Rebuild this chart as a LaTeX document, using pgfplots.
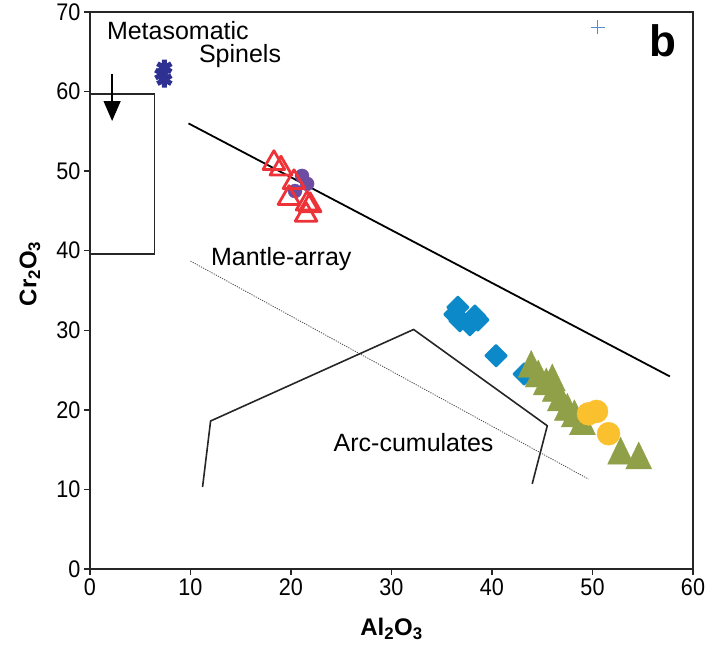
\documentclass[border=0pt]{standalone}
\usepackage{fontspec}
\setmainfont{Liberation Sans}
\newfontfamily\tickfont[FakeStretch=0.9]{Liberation Sans}
\usepackage{pgfplots}
\pgfplotsset{compat=1.18}
\usetikzlibrary{arrows.meta}
\definecolor{cnavy}{HTML}{2E3192}
\definecolor{cplus}{HTML}{4F8FD0}
\definecolor{cred}{HTML}{EE3338}
\definecolor{cpurple}{HTML}{6C4DA1}
\definecolor{cblue}{HTML}{0B89C8}
\definecolor{colive}{HTML}{8FA048}
\definecolor{cyellow}{HTML}{FBC02D}
\begin{document}
\begin{tikzpicture}
\begin{axis}[
  scale only axis, width=603pt, height=557pt,
  xmin=0, xmax=60, ymin=0, ymax=70,
  xtick={0,10,...,60}, ytick={0,10,...,70},
  tick align=outside, xtick pos=bottom, ytick pos=left,
  major tick length=6pt,
  axis line style={line width=1.8pt, black!85},
  tick style={line width=1.5pt, black!85},
  ticklabel style={font=\tickfont\fontsize{24}{28}\selectfont},
  /pgf/number format/assume math mode=true,
  xlabel={Al\textsubscript{2}O\textsubscript{3}},
  ylabel={Cr\textsubscript{2}O\textsubscript{3}},
  every axis x label/.style={at={(axis description cs:0.5,-0.108)}, anchor=center, font=\fontsize{24}{28}\selectfont\bfseries},
  every axis y label/.style={at={(axis description cs:-0.0995,0.53)}, anchor=center, rotate=90, font=\fontsize{24}{28}\selectfont\bfseries},
  clip=false,
]
\coordinate (sw) at (rel axis cs:0,0);
\coordinate (ne) at (rel axis cs:1,1);

% reference fields
\addplot[gray!60!black, line width=0.8pt, dash pattern=on 1.2pt off 1.2pt] coordinates {(10.0,38.7) (49.6,11.3)};
\addplot[black!85, line width=1.6pt, line join=miter] coordinates {(11.2,10.3) (12.0,18.6) (32.2,30.1) (45.5,18.0) (44.0,10.7)};
\addplot[black!85, line width=1.6pt] coordinates {(0,59.7) (6.4,59.7) (6.4,39.6) (0,39.6)};
\addplot[black, line width=1.3pt, -{Triangle[width=17pt,length=20pt]}] coordinates {(2.2,62.2) (2.2,56.3)};

% metasomatic spinels
\addplot[only marks, mark=asterisk, mark size=8pt, line width=5pt, color=cnavy] coordinates {(7.4,63.0) (7.4,61.5) (7.2,62.2)};
\addplot[only marks, mark=+, mark size=7pt, line width=1pt, color=cplus] coordinates {(50.5,68.1)};

% purple + red
\addplot[only marks, mark=*, mark size=7pt, color=cpurple] coordinates {(21.1,49.4) (21.6,48.4) (20.4,47.5)};
\addplot[only marks, mark=triangle, mark size=12.5pt, line width=2.8pt, line join=round, color=cred] coordinates {
  (18.3,51.0) (19.0,50.3) (20.3,48.6) (19.8,46.6) (21.6,45.9) (21.9,45.7) (21.5,44.5)};

% mantle array upper line
\addplot[black, line width=1.8pt] coordinates {(9.8,56.0) (57.7,24.2)};

% blue diamonds
\addplot[only marks, mark=square*, mark size=7.5pt, line width=2pt, line join=round, mark options={rotate=45}, color=cblue] coordinates {
  (36.6,32.9) (36.3,32.0) (36.8,31.2) (37.8,30.7) (38.6,31.3) (38.3,31.8) (40.4,26.8) (43.2,24.5)};

% olive triangles
\addplot[only marks, mark=triangle*, mark size=15pt, mark options={yscale=1.2}, color=colive] coordinates {
  (43.9,25.2) (44.6,24.0) (45.4,23.0) (46.0,23.5) (46.3,22.2) (46.8,21.0) (47.5,19.8) (48.2,19.0) (49.0,18.0) (52.8,14.3) (54.6,13.7)};

% yellow circles
\addplot[only marks, mark=*, mark size=11.5pt, color=cyellow] coordinates {(49.6,19.5) (50.4,19.8) (51.6,17.0)};

\node[anchor=base west, font=\fontsize{25}{30}\selectfont] at (axis cs:1.34,66.6) {Metasomatic};
\node[anchor=base west, font=\fontsize{25}{30}\selectfont] at (axis cs:10.5,63.7) {Spinels};
\node[anchor=base west, font=\fontsize{25}{30}\selectfont] at (axis cs:11.7,38.2) {Mantle-array};
\node[anchor=base west, font=\fontsize{25}{30}\selectfont] at (axis cs:23.9,14.8) {Arc-cumulates};
\node[anchor=base west, font=\fontsize{44}{50}\selectfont\bfseries] at (axis cs:55.3,64.4) {b};
\end{axis}
\pgfresetboundingbox
\path ([shift={(-90pt,-79pt)}]sw) rectangle ([shift={(26pt,12pt)}]ne);
\end{tikzpicture}
\end{document}
